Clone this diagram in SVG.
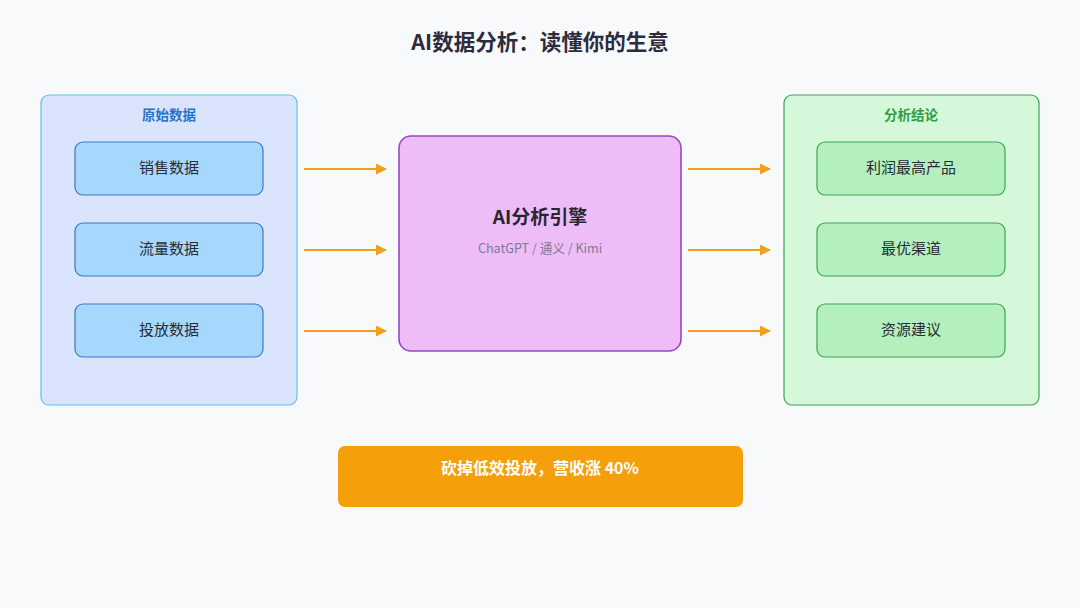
<svg xmlns="http://www.w3.org/2000/svg" width="1080" height="608" viewBox="0 0 1080 608">
<defs>
<marker id="ah" markerWidth="11" markerHeight="11" refX="10" refY="5.5" orient="auto" markerUnits="userSpaceOnUse"><path d="M0,0 L11,5.5 L0,11 Z" fill="#f29f1a"/></marker>
<style>
text{font-family:"Noto Sans CJK SC","Noto Sans",sans-serif;text-anchor:middle}
.item{font-size:15px;fill:#2b2b35}
.bi{fill:#a6d8fe;stroke:#3a78c0;stroke-width:1.2}
.gi{fill:#b3f0be;stroke:#3ea352;stroke-width:1.2}
.conn line{stroke:#f29f1a;stroke-width:2;marker-end:url(#ah)}
</style>
</defs>
<rect width="1080" height="608" fill="#f8f9fb"/>
<text x="540" y="50" style="font-size:21.5px;font-weight:bold;fill:#2c2c3e">AI数据分析：读懂你的生意</text>
<g id="raw">
<rect x="41" y="95" width="256" height="310" rx="8" fill="#dbe4fd" stroke="#5cc2f0" stroke-width="1.2"/>
<text x="169" y="120" style="font-size:13.5px;font-weight:bold;fill:#2a72c6">原始数据</text>
</g>
<g id="sales"><rect class="bi" x="75" y="142" width="188" height="53" rx="8"/><text class="item" x="169" y="173">销售数据</text></g>
<g id="traffic"><rect class="bi" x="75" y="223" width="188" height="53" rx="8"/><text class="item" x="169" y="254">流量数据</text></g>
<g id="ads"><rect class="bi" x="75" y="304" width="188" height="53" rx="8"/><text class="item" x="169" y="335">投放数据</text></g>
<g id="engine">
<rect x="399" y="136" width="282" height="215" rx="12" fill="#eebdf8" stroke="#9b45c0" stroke-width="1.6"/>
<text x="540" y="224" style="font-size:19px;font-weight:bold;fill:#2a2530">AI分析引擎</text>
<text x="540" y="253" style="font-size:12.6px;fill:#7a7a98">ChatGPT / 通义 / Kimi</text>
</g>
<g id="result">
<rect x="784" y="95" width="255" height="310" rx="8" fill="#d5f7da" stroke="#3ea352" stroke-width="1.2"/>
<text x="911" y="120" style="font-size:13.5px;font-weight:bold;fill:#2f9e44">分析结论</text>
</g>
<g id="profit"><rect class="gi" x="817" y="142" width="188" height="53" rx="8"/><text class="item" x="911" y="173">利润最高产品</text></g>
<g id="channel"><rect class="gi" x="817" y="223" width="188" height="53" rx="8"/><text class="item" x="911" y="254">最优渠道</text></g>
<g id="advice"><rect class="gi" x="817" y="304" width="188" height="53" rx="8"/><text class="item" x="911" y="335">资源建议</text></g>
<g id="outcome">
<rect x="338" y="446" width="405" height="61" rx="7" fill="#f59f0b"/>
<text x="540" y="474" style="font-size:16px;font-weight:bold;fill:#ffffff">砍掉低效投放，营收涨 40%</text>
</g>
<g class="conn" id="connectors">
<line x1="304" y1="169" x2="386" y2="169"/>
<line x1="304" y1="250" x2="386" y2="250"/>
<line x1="304" y1="331" x2="386" y2="331"/>
<line x1="688" y1="169" x2="770" y2="169"/>
<line x1="688" y1="250" x2="770" y2="250"/>
<line x1="688" y1="331" x2="770" y2="331"/>
</g>
</svg>
